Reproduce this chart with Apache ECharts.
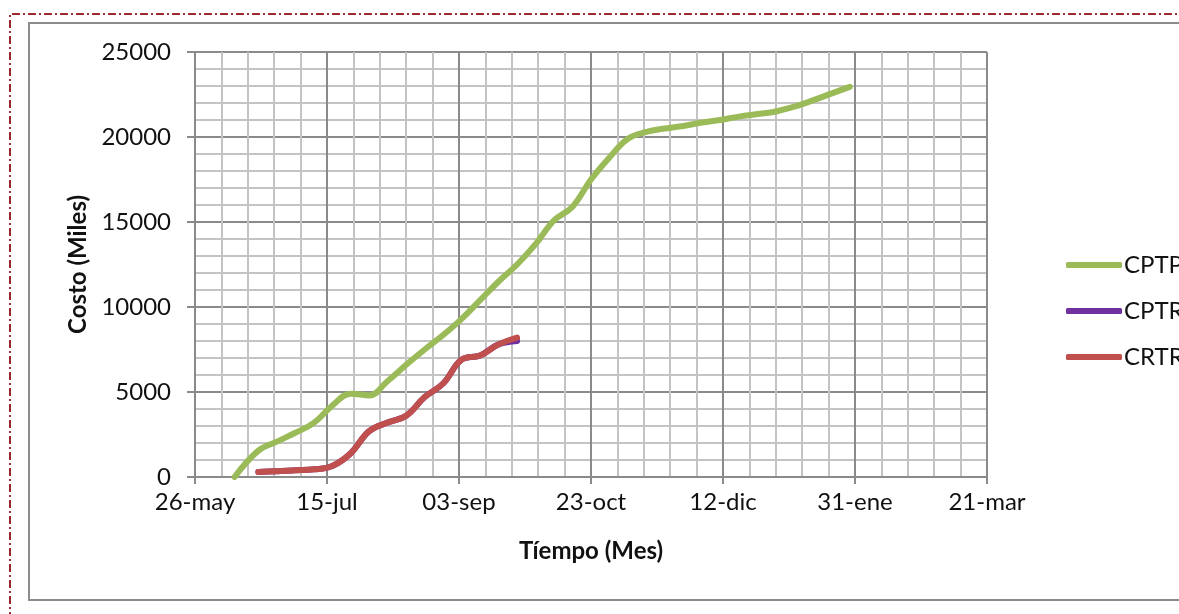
<!DOCTYPE html>
<html>
<head>
<meta charset="utf-8">
<title>Costo vs Tiempo</title>
<script src="https://cdn.jsdelivr.net/npm/echarts@6/dist/echarts.min.js"></script>
<style>
  html, body { margin: 0; padding: 0; background: #fff; }
  #chart { width: 1179px; height: 614px; }
</style>
</head>
<body>
<div id="chart"></div>
<script>
// dias contados desde el 26-may
const xTickLabels = ['26-may', '15-jul', '03-sep', '23-oct', '12-dic', '31-ene', '21-mar']

const cptpDays = [15, 24, 31, 38, 45, 52, 59, 66, 73, 80, 87, 94, 101, 108, 115, 122, 129, 136, 143, 150,
  157, 164, 171, 178, 185, 192, 199, 206, 213, 220, 227, 234, 241, 248]
const cptpVals = [0, 1550, 2080, 2600, 3180, 4200, 4900, 4800, 5650, 6600, 7500, 8350, 9300, 10400, 11500, 12500, 13700, 15100, 15900, 17500,
  18800, 19900, 20300, 20500, 20650, 20850, 21000, 21200, 21350, 21500, 21780, 22150, 22550, 22950]

const realDays = [24, 31, 38, 45, 52, 59, 66, 73, 80, 87, 94, 101, 108, 115, 122]
const cptrVals = [300, 340, 400, 450, 650, 1400, 2700, 3200, 3600, 4700, 5500, 6900, 7150, 7800, 8000]
const crtrVals = [300, 340, 400, 450, 650, 1400, 2700, 3200, 3600, 4700, 5500, 6900, 7150, 7800, 8200]

const pairs = (xs, ys) => xs.map((d, i) => [d, ys[i]])

const font = 'Lato, "Noto Sans", sans-serif'
const majorColor = '#8a8a8a'
const minorColor = '#c3c3c3'

const chart = echarts.init(document.getElementById('chart'))
chart.setOption({
  animation: false,
  textStyle: { fontFamily: font },
  grid: { left: 195, right: 192, top: 52, bottom: 137 },
  graphic: [
    {
      type: 'rect',
      shape: { x: 29, y: 23, width: 1200, height: 577 },
      style: { fill: 'none', stroke: '#8c8c8c', lineWidth: 2 },
      silent: true,
    },
    {
      type: 'polyline',
      shape: { points: [[10, 700], [10, 14], [1200, 14]] },
      style: { fill: 'none', stroke: '#9b2b2b', lineWidth: 2, lineDash: [8, 3, 2, 3] },
      silent: true,
    },
  ],
  legend: {
    orient: 'vertical',
    left: 1061,
    top: 246,
    itemWidth: 56,
    itemHeight: 6,
    itemGap: 18,
    icon: 'roundRect',
    textStyle: { fontSize: 24, color: '#111', lineHeight: 28, padding: [0, 0, 0, -3] },
    data: ['CPTP', 'CPTR', 'CRTR'],
  },
  xAxis: {
    type: 'value',
    min: 0,
    max: 300,
    interval: 50,
    name: 'Tíempo (Mes)',
    nameLocation: 'middle',
    nameGap: 62,
    nameTextStyle: { fontSize: 24, fontWeight: 'bold', color: '#111' },
    axisLine: { show: true, lineStyle: { color: majorColor, width: 2 } },
    axisTick: { show: true, length: 7, lineStyle: { color: majorColor, width: 2 } },
    axisLabel: {
      fontSize: 24,
      color: '#111',
      margin: 13,
      formatter: v => xTickLabels[Math.round(v / 50)],
    },
    splitLine: { show: true, lineStyle: { color: majorColor, width: 2 } },
    minorTick: { show: false, splitNumber: 5 },
    minorSplitLine: { show: true, lineStyle: { color: minorColor, width: 2 } },
  },
  yAxis: {
    type: 'value',
    min: 0,
    max: 25000,
    interval: 5000,
    name: 'Costo (Miles)',
    nameLocation: 'middle',
    nameGap: 87,
    nameTextStyle: { fontSize: 24, fontWeight: 'bold', color: '#111' },
    axisLine: { show: true, lineStyle: { color: majorColor, width: 2 } },
    axisTick: { show: true, length: 8, lineStyle: { color: majorColor, width: 2 } },
    axisLabel: { fontSize: 24, color: '#111', margin: 24, formatter: v => String(v) },
    splitLine: { show: true, lineStyle: { color: majorColor, width: 2 } },
    minorTick: { show: false, splitNumber: 5 },
    minorSplitLine: { show: true, lineStyle: { color: minorColor, width: 2 } },
  },
  series: [
    {
      name: 'CPTP',
      type: 'line',
      symbol: 'none',
      smooth: 0.4,
      color: '#9bbb59',
      lineStyle: { width: 6, cap: 'round' },
      data: pairs(cptpDays, cptpVals),
    },
    {
      name: 'CPTR',
      type: 'line',
      symbol: 'none',
      smooth: 0.4,
      color: '#7030a0',
      lineStyle: { width: 6, cap: 'round' },
      data: pairs(realDays, cptrVals),
    },
    {
      name: 'CRTR',
      type: 'line',
      symbol: 'none',
      smooth: 0.4,
      color: '#c0504d',
      lineStyle: { width: 6, cap: 'round' },
      data: pairs(realDays, crtrVals),
    },
  ],
})
</script>
</body>
</html>
